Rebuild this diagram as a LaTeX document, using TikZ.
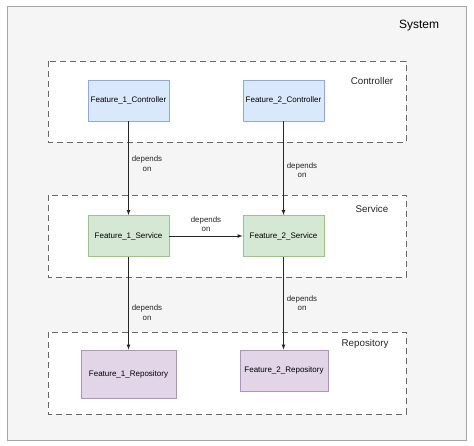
\documentclass[tikz,border=0pt]{standalone}
\usepackage{fontspec}
\setmainfont{Liberation Sans}
\usetikzlibrary{arrows}
\definecolor{sysfill}{HTML}{F5F5F5}
\definecolor{sysline}{HTML}{A6A6A6}
\definecolor{layerline}{HTML}{666666}
\definecolor{ctrlfill}{HTML}{DAE8FC}
\definecolor{ctrlline}{HTML}{8FAAD6}
\definecolor{servfill}{HTML}{D5E8D4}
\definecolor{servline}{HTML}{9CC48A}
\definecolor{repofill}{HTML}{E1D5E7}
\definecolor{repoline}{HTML}{AE93BB}

\begin{document}
\begin{tikzpicture}[x=1pt,y=-1pt,
  layer/.style={draw=layerline,fill=white,line width=0.9pt,dash pattern=on 6pt off 4pt},
  box/.style={draw=#1line,fill=#1fill,line width=0.8pt,minimum width=81pt,minimum height=41pt,
    inner sep=1pt,font=\fontsize{8}{9}\selectfont},
  title/.style={font=\fontsize{9.8}{12}\selectfont,text=black!85},
  dep/.style={-latex,line width=0.7pt,draw=black!85},
  lbl/.style={align=center,font=\fontsize{7.9}{9.5}\selectfont,inner sep=1pt,text=black!85}]
\useasboundingbox (0,0) rectangle (474,446);

% outer system
\draw[fill=sysfill,draw=sysline,line width=0.8pt] (7,6) rectangle (466,440);
\node[font=\fontsize{12}{14}\selectfont] (system) at (419,26) {System};

% layers
\draw[layer] (48,61) rectangle (406,142);
\node[title] (controller) at (372,81) {Controller};
\draw[layer] (48,195) rectangle (406,277);
\node[title] (service) at (372,209) {Service};
\draw[layer] (48,332) rectangle (406,414);
\node[title] (repository) at (365,344) {Repository};

% features
\node[box=ctrl] (f1c) at (128.5,100.5) {Feature\_1\_Controller};
\node[box=ctrl] (f2c) at (283.5,100.5) {Feature\_2\_Controller};
\node[box=serv] (f1s) at (128.5,236) {Feature\_1\_Service};
\node[box=serv] (f2s) at (283.5,236) {Feature\_2\_Service};
\node[box=repo,minimum width=95pt,minimum height=48pt] (f1r) at (128.5,374) {Feature\_1\_Repository};
\node[box=repo,minimum width=88pt,minimum height=41pt] (f2r) at (284,370.5) {Feature\_2\_Repository};

% dependencies
\draw[dep] (f1c) -- node[lbl,right=2pt,pos=0.45] {depends\\on} (f1s);
\draw[dep] (f2c) -- node[lbl,right=2pt,pos=0.52] {depends\\on} (f2s);
\draw[dep] (f1s) -- node[lbl,above=3pt] {depends\\on} (f2s);
\draw[dep] (f1s) -- node[lbl,right=2pt,pos=0.6] {depends\\on} (f1r);
\draw[dep] (f2s.south) -- node[lbl,right=2pt,pos=0.5] {depends\\on} (f2r.north-|f2s.south);
\end{tikzpicture}
\end{document}
